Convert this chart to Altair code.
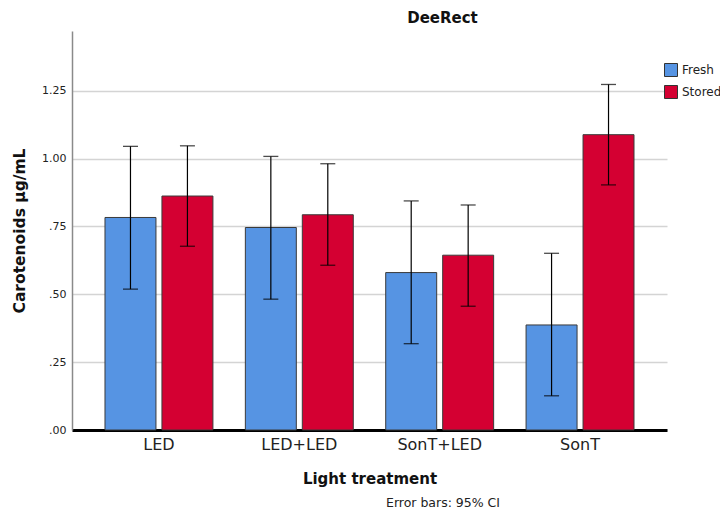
import altair as alt
import pandas as pd

categories = ["LED", "LED+LED", "SonT+LED", "SonT"]
groups = ["Fresh", "Stored"]
fresh_mean = [0.783, 0.746, 0.580, 0.387]
fresh_lo = [0.519, 0.482, 0.318, 0.126]
fresh_hi = [1.045, 1.008, 0.844, 0.651]
stored_mean = [0.862, 0.793, 0.644, 1.088]
stored_lo = [0.677, 0.607, 0.456, 0.903]
stored_hi = [1.047, 0.981, 0.829, 1.273]
y_ticks = [0.0, 0.25, 0.5, 0.75, 1.0, 1.25]
colors = ["#5694E3", "#D40032"]
note = "Error bars: 95% CI"

rows = []
for i, c in enumerate(categories):
    rows.append({"cat": c, "grp": "Fresh", "mean": fresh_mean[i], "lo": fresh_lo[i], "hi": fresh_hi[i]})
    rows.append({"cat": c, "grp": "Stored", "mean": stored_mean[i], "lo": stored_lo[i], "hi": stored_hi[i]})
df = pd.DataFrame(rows)

FONT = "DejaVu Sans"

x_enc = alt.X("cat:N", sort=categories,
              scale=alt.Scale(paddingInner=0.231, paddingOuter=0.235),
              axis=alt.Axis(title="Light treatment", labelAngle=0, labelFontSize=16,
                            labelColor="#222", labelPadding=6, ticks=False,
                            domainColor="#000", domainWidth=3,
                            titleFontSize=15, titleFontWeight="bold", titlePadding=19,
                            titleColor="#111"))
xo_enc = alt.XOffset("grp:N", sort=groups, scale=alt.Scale(paddingInner=0.105, paddingOuter=0))
y_scale = alt.Scale(domain=[0, 1.47], nice=False)

bars = alt.Chart(df).mark_bar(stroke="#3a3a3a", strokeWidth=1).encode(
    x=x_enc,
    xOffset=xo_enc,
    y=alt.Y("mean:Q", scale=y_scale,
            axis=alt.Axis(title="Carotenoids  µg/mL", values=y_ticks,
                          labelExpr="datum.value < 1 ? substring(format(datum.value, '.2f'), 1) : format(datum.value, '.2f')",
                          labelFontSize=11, labelColor="#222", labelPadding=6, ticks=False,
                          domainColor="#8a8a8a", domainWidth=1.5,
                          grid=True, gridColor="#d4d4d4", gridWidth=1.5,
                          titleFontSize=15.5, titleFontWeight="bold", titlePadding=14,
                          titleColor="#111")),
    color=alt.Color("grp:N", sort=groups, scale=alt.Scale(domain=groups, range=colors),
                    legend=alt.Legend(title=None, orient="none", legendX=592, legendY=32,
                                      symbolType="square", symbolSize=169,
                                      symbolStrokeColor="#333", symbolStrokeWidth=1,
                                      labelFontSize=12, labelColor="#222", labelOffset=4,
                                      rowPadding=4, padding=0)),
)

rules = alt.Chart(df).mark_rule(color="#000", strokeWidth=1.2).encode(
    x=alt.X("cat:N", sort=categories),
    xOffset=alt.XOffset("grp:N", sort=groups),
    y=alt.Y("lo:Q"),
    y2="hi:Q",
)
caps_lo = alt.Chart(df).mark_tick(color="#000", size=15, thickness=1.3).encode(
    x=alt.X("cat:N", sort=categories),
    xOffset=alt.XOffset("grp:N", sort=groups),
    y=alt.Y("lo:Q"),
)
caps_hi = alt.Chart(df).mark_tick(color="#000", size=15, thickness=1.3).encode(
    x=alt.X("cat:N", sort=categories),
    xOffset=alt.XOffset("grp:N", sort=groups),
    y=alt.Y("hi:Q"),
)

footnote = alt.Chart(pd.DataFrame({"t": [note]})).mark_text(
    fontSize=12.5, font=FONT, color="#222", align="center", baseline="middle"
).encode(text="t:N", x=alt.value(371), y=alt.value(472))

chart = alt.layer(bars, rules, caps_lo, caps_hi, footnote).properties(
    width=595, height=399,
    title=alt.TitleParams("DeeRect", fontSize=15, fontWeight="bold", color="#111",
                          anchor="middle", dx=73, offset=5, font=FONT),
    autosize=alt.AutoSizeParams(type="none"),
    padding={"left": 64, "top": 23, "right": 53, "bottom": 81},
).configure(font=FONT).configure_view(stroke=None).configure_axis(
    labelFont=FONT, titleFont=FONT
).configure_legend(labelFont=FONT)

chart.save("out.html", embed_options={"renderer": "svg", "actions": False})
